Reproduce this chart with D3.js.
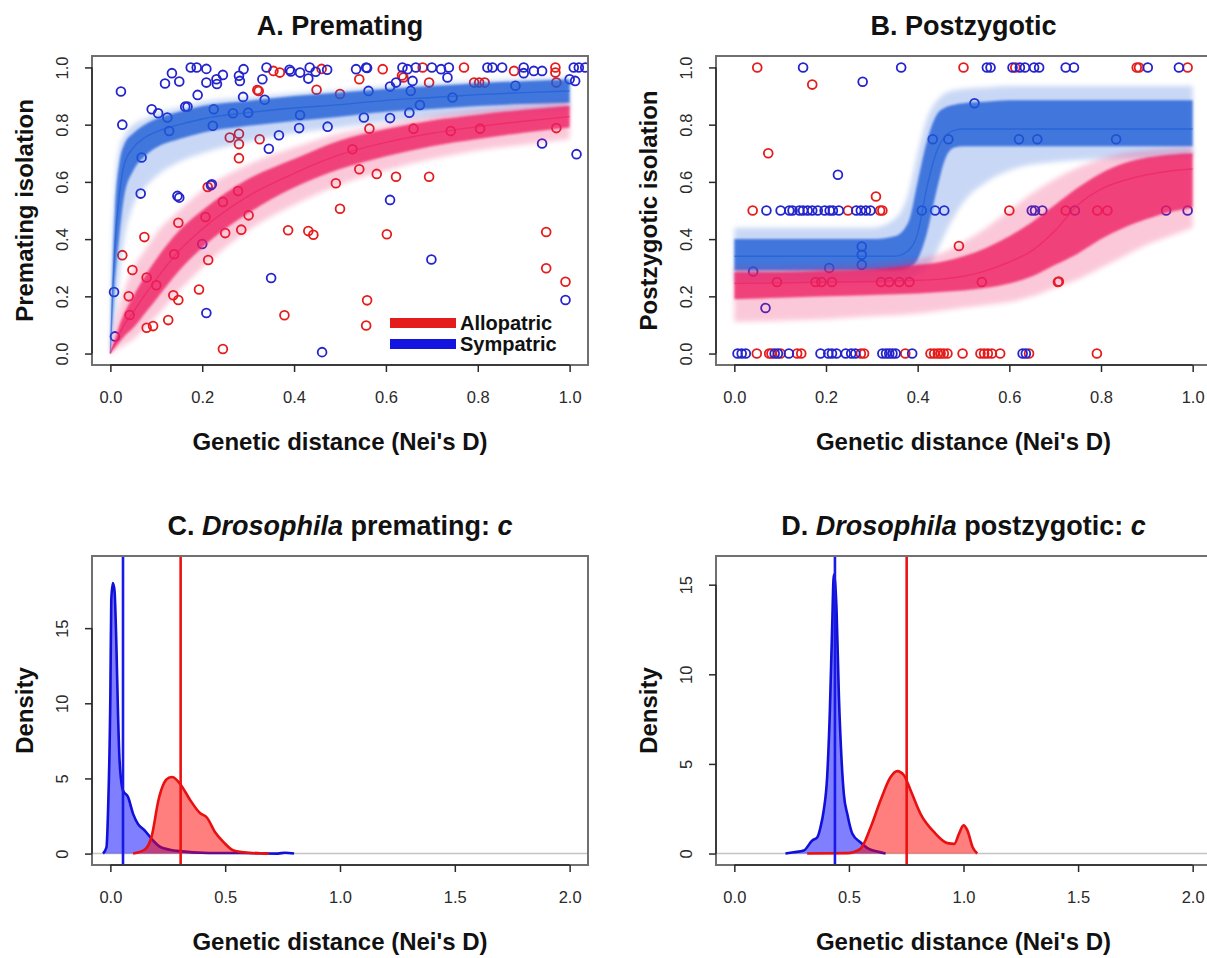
<!DOCTYPE html>
<html>
<head>
<meta charset="utf-8">
<script src="https://cdn.jsdelivr.net/npm/d3@7/dist/d3.min.js"></script>
<style>
  body { margin: 0; background: #fff; }
</style>
</head>
<body>
<svg id="fig" width="1207" height="958"></svg>
<script>
// ---- data ----

// A. premating isolation vs genetic distance (Nei's D)
var premAllo = [
  [0.355,0.988],[0.369,0.982],[0.32,0.921],[0.323,0.918],[0.26,0.755],[0.28,0.768],[0.28,0.732],
  [0.325,0.749],[0.28,0.683],[0.278,0.568],[0.449,0.922],[0.50,0.907],[0.491,0.595],[0.50,0.506],
  [0.301,0.483],[0.285,0.433],[0.25,0.421],[0.212,0.582],[0.245,0.53],[0.207,0.477],[0.148,0.457],
  [0.074,0.407],[0.026,0.344],[0.048,0.292],[0.079,0.266],[0.10,0.239],[0.04,0.20],[0.042,0.135],
  [0.079,0.09],[0.093,0.096],[0.126,0.117],[0.137,0.204],[0.148,0.187],[0.193,0.224],[0.213,0.327],
  [0.139,0.347],[0.387,0.431],[0.431,0.428],[0.442,0.415],[0.379,0.134],[0.245,0.016],[0.527,0.714],
  [0.46,0.995],[0.542,0.959],[0.593,0.994],[0.638,0.965],[0.635,0.972],[0.68,1.0],[0.694,0.947],
  [0.77,1.0],[0.792,0.947],[0.803,0.947],[0.815,0.947],[0.879,0.988],[0.969,1.0],[0.969,0.982],
  [0.971,0.947],[0.564,0.786],[0.66,0.786],[0.741,0.778],[0.805,0.786],[0.971,0.788],[0.542,0.644],
  [0.58,0.628],[0.622,0.618],[0.694,0.618],[0.602,0.417],[0.949,0.425],[0.949,0.298],[0.991,0.251],
  [0.559,0.186],[0.557,0.098]
];
var premSym = [
  [0.023,0.916],[0.026,0.80],[0.09,0.854],[0.104,0.84],[0.124,0.825],[0.119,0.944],[0.134,0.98],
  [0.15,0.951],[0.163,0.863],[0.168,0.863],[0.175,1.0],[0.188,1.0],[0.19,0.904],[0.209,0.995],
  [0.209,0.947],[0.225,0.854],[0.223,0.796],[0.231,0.959],[0.232,0.942],[0.245,0.974],[0.267,0.84],
  [0.28,0.971],[0.282,0.953],[0.29,0.994],[0.289,0.897],[0.331,0.959],[0.336,0.887],[0.34,1.0],
  [0.345,0.716],[0.367,0.763],[0.39,0.992],[0.393,0.986],[0.411,0.788],[0.413,0.982],[0.413,0.834],
  [0.431,0.961],[0.434,1.0],[0.447,0.985],[0.472,0.992],[0.473,0.793],[0.068,0.685],[0.066,0.559],
  [0.146,0.551],[0.15,0.545],[0.219,0.588],[0.221,0.592],[0.2,0.383],[0.209,0.142],[0.35,0.264],
  [0.461,0.005],[0.008,0.215],[0.01,0.06],[0.128,0.778],[0.30,0.842],
  [0.535,0.994],[0.557,1.0],[0.559,0.998],[0.636,1.0],[0.647,0.994],[0.665,1.0],[0.70,1.0],
  [0.72,0.994],[0.737,1.0],[0.821,1.0],[0.832,1.0],[0.853,1.0],[0.90,1.0],[0.90,0.98],[0.922,0.988],
  [0.94,0.988],[1.009,1.0],[1.02,1.0],[1.034,1.0],[0.658,0.953],[0.734,0.965],[0.882,0.936],
  [1.0,0.959],[1.012,0.953],[0.562,0.918],[0.609,0.933],[0.622,0.947],[0.654,0.918],[0.745,0.895],
  [0.552,0.825],[0.609,0.823],[0.651,0.842],[0.674,0.869],[0.94,0.734],[1.015,0.697],[0.609,0.537],
  [0.699,0.329],[0.991,0.187]
];
// posterior fit bands: [D, outer low, inner low, median, inner high, outer high]
var premSymBand = [
  [0.000,0.00,0.00,0.00,0.00,0.00],[0.005,0.05,0.12,0.22,0.30,0.40],[0.010,0.12,0.25,0.38,0.50,0.58],
  [0.020,0.28,0.42,0.56,0.67,0.72],[0.030,0.40,0.55,0.66,0.73,0.76],[0.050,0.52,0.64,0.72,0.77,0.80],
  [0.075,0.58,0.69,0.755,0.80,0.82],[0.100,0.62,0.72,0.775,0.82,0.84],[0.150,0.67,0.75,0.80,0.845,0.86],
  [0.200,0.70,0.772,0.82,0.865,0.88],[0.300,0.74,0.796,0.842,0.883,0.895],[0.400,0.77,0.813,0.858,0.90,0.91],
  [0.500,0.79,0.828,0.87,0.912,0.92],[0.600,0.81,0.845,0.885,0.925,0.935],[0.700,0.825,0.855,0.895,0.935,0.945],
  [0.800,0.835,0.865,0.905,0.945,0.953],[0.900,0.845,0.872,0.912,0.952,0.96],[1.000,0.85,0.877,0.918,0.958,0.965]
];
var premAlloBand = [
  [0.000,0.00,0.00,0.00,0.00,0.00],[0.005,0.00,0.01,0.02,0.03,0.06],[0.010,0.01,0.02,0.035,0.05,0.10],
  [0.020,0.02,0.04,0.07,0.10,0.17],[0.030,0.03,0.06,0.10,0.14,0.22],[0.050,0.05,0.09,0.145,0.20,0.30],
  [0.075,0.09,0.14,0.205,0.27,0.36],[0.100,0.13,0.19,0.26,0.33,0.42],[0.150,0.22,0.29,0.36,0.43,0.50],
  [0.200,0.30,0.37,0.435,0.50,0.57],[0.300,0.43,0.49,0.55,0.61,0.66],[0.400,0.52,0.58,0.63,0.68,0.72],
  [0.500,0.59,0.645,0.695,0.745,0.77],[0.600,0.64,0.69,0.738,0.785,0.80],[0.700,0.68,0.725,0.77,0.815,0.83],
  [0.800,0.71,0.75,0.793,0.835,0.85],[0.900,0.73,0.772,0.812,0.852,0.865],[1.000,0.75,0.79,0.828,0.866,0.88]
];

// B. postzygotic isolation vs genetic distance
var postAllo = [
  [0.05,1.0],[0.5,1.0],[0.613,1.0],[0.878,1.0],[0.883,1.0],[0.989,1.0],
  [0.17,0.94],[0.074,0.70],[0.309,0.549],[0.49,0.376],
  [0.04,0.5],[0.248,0.5],[0.318,0.5],[0.323,0.5],[0.6,0.5],[0.723,0.5],[0.792,0.5],[0.814,0.5],
  [0.093,0.25],[0.177,0.25],[0.19,0.25],[0.213,0.25],[0.32,0.25],[0.338,0.25],[0.36,0.25],[0.382,0.25],
  [0.54,0.25],[0.706,0.25],[0.708,0.252],
  [0.049,0],[0.076,0],[0.081,0],[0.101,0],[0.137,0],[0.146,0],[0.276,0],[0.283,0],[0.373,0],[0.428,0],
  [0.436,0],[0.444,0],[0.45,0],[0.457,0],[0.465,0],[0.498,0],[0.537,0],[0.545,0],[0.553,0],[0.562,0],
  [0.58,0],[0.643,0],[0.791,0]
];
var postSym = [
  [0.15,1.0],[0.364,1.0],[0.551,1.0],[0.559,1.0],[0.607,1.0],[0.623,1.0],[0.634,1.0],[0.654,1.0],
  [0.665,1.0],[0.723,1.0],[0.741,1.0],[0.902,1.0],[0.97,1.0],
  [0.28,0.95],[0.226,0.625],[0.524,0.875],[0.433,0.749],[0.467,0.749],[0.621,0.749],[0.661,0.749],[0.833,0.749],
  [0.07,0.5],[0.101,0.5],[0.12,0.5],[0.127,0.5],[0.142,0.5],[0.15,0.5],[0.16,0.5],[0.17,0.5],[0.182,0.5],
  [0.197,0.5],[0.208,0.5],[0.215,0.5],[0.228,0.5],[0.266,0.5],[0.276,0.5],[0.287,0.5],[0.297,0.5],
  [0.409,0.5],[0.438,0.5],[0.458,0.5],[0.649,0.5],[0.656,0.5],[0.672,0.5],[0.743,0.5],[0.942,0.5],[0.989,0.5],
  [0.278,0.374],[0.278,0.345],[0.278,0.31],[0.207,0.299],[0.041,0.287],[0.068,0.159],
  [0.007,0],[0.016,0],[0.025,0],[0.088,0],[0.095,0],[0.119,0],[0.188,0],[0.205,0],[0.213,0],[0.223,0],
  [0.243,0],[0.255,0],[0.264,0],[0.323,0],[0.331,0],[0.338,0],[0.345,0],[0.352,0],[0.388,0],[0.629,0],[0.636,0]
];
var postSymBand = [
  [0.00,0.25,0.29,0.34,0.40,0.44],[0.10,0.25,0.29,0.34,0.40,0.44],[0.20,0.25,0.29,0.34,0.40,0.44],
  [0.30,0.25,0.29,0.34,0.40,0.44],[0.35,0.25,0.29,0.34,0.41,0.47],[0.38,0.26,0.30,0.36,0.46,0.56],
  [0.40,0.28,0.33,0.42,0.60,0.70],[0.42,0.30,0.42,0.58,0.74,0.82],[0.44,0.35,0.56,0.70,0.83,0.88],
  [0.46,0.42,0.68,0.76,0.86,0.91],[0.48,0.48,0.72,0.78,0.87,0.92],[0.50,0.53,0.725,0.785,0.875,0.925],
  [0.55,0.60,0.725,0.785,0.88,0.93],[0.60,0.64,0.725,0.785,0.885,0.935],[0.70,0.67,0.725,0.785,0.885,0.935],
  [0.80,0.68,0.725,0.785,0.885,0.935],[0.90,0.685,0.725,0.785,0.885,0.935],[1.00,0.69,0.725,0.785,0.885,0.935]
];
var postAlloBand = [
  [0.00,0.11,0.19,0.245,0.285,0.30],[0.10,0.115,0.195,0.247,0.285,0.30],[0.20,0.12,0.20,0.25,0.29,0.305],
  [0.30,0.13,0.205,0.252,0.295,0.31],[0.40,0.14,0.21,0.256,0.31,0.33],[0.45,0.15,0.215,0.26,0.32,0.35],
  [0.50,0.16,0.22,0.27,0.34,0.39],[0.55,0.17,0.23,0.29,0.37,0.44],[0.60,0.18,0.245,0.32,0.41,0.50],
  [0.65,0.20,0.27,0.36,0.46,0.56],[0.70,0.23,0.31,0.43,0.52,0.61],[0.75,0.26,0.35,0.52,0.58,0.65],
  [0.80,0.30,0.40,0.575,0.63,0.68],[0.85,0.34,0.44,0.605,0.665,0.70],[0.90,0.38,0.47,0.625,0.685,0.71],
  [0.95,0.41,0.495,0.638,0.695,0.715],[1.00,0.44,0.51,0.645,0.70,0.72]
];

// C / D. posterior densities of c, [D, density]
var premDensSym = [
  [-0.032,0],[-0.017,0.42],[-0.01,2.9],[0.0,10.6],[0.004,16.9],[0.011,18.0],[0.018,17.5],[0.026,14.0],
  [0.033,9.5],[0.04,6.2],[0.055,4.2],[0.077,3.76],[0.099,2.64],[0.12,1.98],[0.15,1.53],[0.186,0.87],
  [0.22,0.42],[0.29,0.18],[0.43,0.04],[0.57,0.04],[0.73,0.0],[0.76,0.06],[0.80,0]
];
var premDensAllo = [
  [0.099,0],[0.15,0.27],[0.18,1.16],[0.21,3.6],[0.234,4.7],[0.255,5.05],[0.27,5.1],[0.31,4.5],[0.346,3.6],
  [0.39,2.7],[0.42,2.4],[0.457,1.4],[0.493,0.76],[0.537,0.2],[0.60,0.05],[0.69,0]
];
var postDensSym = [
  [0.223,0],[0.26,0.07],[0.303,0.17],[0.34,0.73],[0.362,0.91],[0.376,1.47],[0.39,2.4],[0.405,4.27],
  [0.417,8.0],[0.427,12.7],[0.434,15.56],[0.446,13.6],[0.456,8.9],[0.468,5.2],[0.478,3.3],[0.493,2.2],
  [0.515,1.1],[0.55,0.63],[0.587,0.26],[0.624,0.11],[0.66,0]
];
var postDensAllo = [
  [0.318,0],[0.493,0.02],[0.55,0.26],[0.595,1.47],[0.638,2.97],[0.682,4.27],[0.711,4.6],[0.74,4.37],
  [0.77,3.5],[0.813,2.2],[0.872,1.19],[0.93,0.58],[0.96,0.54],[0.98,1.1],[1.0,1.57],[1.017,1.29],
  [1.04,0.35],[1.06,0]
];
// posterior medians of c: [sympatric, allopatric]
var premMedians = [0.055, 0.306];
var postMedians = [0.439, 0.752];

// ticks
var isoTicks = [0, 0.2, 0.4, 0.6, 0.8, 1.0];
var distTicks = [0, 0.5, 1.0, 1.5, 2.0];
var densTicksC = [0, 5, 10, 15];
var densTicksD = [0, 5, 10, 15];
var legendNames = ["Allopatric", "Sympatric"];

// ---- drawing ----
var FONT = '"Liberation Sans", Arial, Helvetica, sans-serif';
var RED = "#e51c1c", BLUE = "#2424cc";
var svg = d3.select("#fig");
var defs = svg.append("defs");

// soft edges for the bundles of posterior curves
[["soft1", 1.0], ["soft2", 2.4]].forEach(function(f){
    defs.append("filter").attr("id", f[0])
        .attr("x", "-5%").attr("y", "-5%").attr("width", "110%").attr("height", "110%")
        .append("feGaussianBlur").attr("stdDeviation", f[1]);
});

function panel(o){
    var p = {o: o};
    p.x = d3.scaleLinear().domain(o.xdom).range([o.left, o.right]);
    p.y = d3.scaleLinear().domain(o.ydom).range([o.bottom, o.top]);
    defs.append("clipPath").attr("id", o.id).append("rect")
        .attr("x", o.left).attr("y", o.top)
        .attr("width", o.right - o.left).attr("height", o.bottom - o.top);
    p.plot = svg.append("g").attr("clip-path", "url(#" + o.id + ")");
    return p;
}

// box, axes, titles (R base graphics look)
function frame(p, title, xlab, ylab, xticks, yticks, xfmt, yfmt){
    var o = p.o;
    svg.append("rect")
        .attr("x", o.left).attr("y", o.top)
        .attr("width", o.right - o.left).attr("height", o.bottom - o.top)
        .attr("fill", "none").attr("stroke", "#707070").attr("stroke-width", 2);

    var gx = svg.append("g")
        .attr("transform", "translate(0," + o.bottom + ")")
        .call(d3.axisBottom(p.x).tickValues(xticks).tickFormat(d3.format(xfmt)).tickSize(7).tickSizeOuter(0));
    var gy = svg.append("g")
        .attr("transform", "translate(" + o.left + ",0)")
        .call(d3.axisLeft(p.y).tickValues(yticks).tickFormat(d3.format(yfmt)).tickSize(7).tickSizeOuter(0));

    [gx, gy].forEach(function(g){
        g.attr("font-family", FONT).attr("font-size", 16.5).attr("color", "#2a2a2a");
        g.select(".domain").remove();
        g.selectAll(".tick line").attr("stroke-width", 1.5);
    });
    gx.selectAll(".tick text").attr("y", 26);
    gy.selectAll(".tick text")
        .attr("transform", "rotate(-90)")
        .attr("x", 0).attr("y", -24).attr("dy", 0)
        .attr("text-anchor", "middle");

    // axis lines from first to last tick
    svg.append("line")
        .attr("x1", p.x(xticks[0])).attr("x2", p.x(xticks[xticks.length - 1]))
        .attr("y1", o.bottom).attr("y2", o.bottom)
        .attr("stroke", "#2a2a2a").attr("stroke-width", 1.5);
    svg.append("line")
        .attr("x1", o.left).attr("x2", o.left)
        .attr("y1", p.y(yticks[0])).attr("y2", p.y(yticks[yticks.length - 1]))
        .attr("stroke", "#2a2a2a").attr("stroke-width", 1.5);

    var cx = (o.left + o.right) / 2;
    var t = svg.append("text")
        .attr("x", cx).attr("y", o.top - 21)
        .attr("text-anchor", "middle")
        .attr("font-family", FONT).attr("font-size", 27).attr("font-weight", "bold")
        .attr("fill", "#111");
    title.forEach(function(s){
        t.append("tspan").attr("font-style", s[1] ? "italic" : "normal").text(s[0]);
    });

    svg.append("text")
        .attr("x", cx).attr("y", o.bottom + 85)
        .attr("text-anchor", "middle")
        .attr("font-family", FONT).attr("font-size", 24).attr("font-weight", "bold")
        .attr("fill", "#111")
        .text(xlab);
    svg.append("text")
        .attr("transform", "translate(" + (o.left - 59) + "," + ((o.top + o.bottom) / 2) + ") rotate(-90)")
        .attr("text-anchor", "middle")
        .attr("font-family", FONT).attr("font-size", 24).attr("font-weight", "bold")
        .attr("fill", "#111")
        .text(ylab);
}

function points(p, data, color){
    p.plot.selectAll(null)
        .data(data)
        .enter()
        .append("circle")
        .attr("cx", function(d){ return p.x(d[0]); })
        .attr("cy", function(d){ return p.y(d[1]); })
        .attr("r", 4.4)
        .attr("fill", "none")
        .attr("stroke", color)
        .attr("stroke-width", 1.8);
}

// bundle of posterior curves drawn as nested soft bands + median
function band(p, rows, color){
    function area(lo, hi){
        return d3.area()
            .x(function(d){ return p.x(d[0]); })
            .y0(function(d){ return p.y(d[lo]); })
            .y1(function(d){ return p.y(d[hi]); })
            .curve(d3.curveMonotoneX);
    }
    p.plot.append("path").datum(rows)
        .attr("d", area(1, 5)).attr("fill", color).attr("opacity", 0.24)
        .attr("filter", "url(#soft2)");
    p.plot.append("path").datum(rows)
        .attr("d", area(2, 4)).attr("fill", color).attr("opacity", 0.78)
        .attr("filter", "url(#soft1)");
    p.plot.append("path").datum(rows)
        .attr("d", d3.line()
            .x(function(d){ return p.x(d[0]); })
            .y(function(d){ return p.y(d[3]); })
            .curve(d3.curveMonotoneX))
        .attr("fill", "none").attr("stroke", color)
        .attr("stroke-width", 1.4).attr("opacity", 0.6);
}

function density(p, data, fill, stroke){
    var area = d3.area()
        .x(function(d){ return p.x(d[0]); })
        .y0(p.y(0))
        .y1(function(d){ return p.y(d[1]); })
        .curve(d3.curveMonotoneX);
    var line = d3.line()
        .x(function(d){ return p.x(d[0]); })
        .y(function(d){ return p.y(d[1]); })
        .curve(d3.curveMonotoneX);
    p.plot.append("path").datum(data).attr("d", area)
        .attr("fill", fill).attr("fill-opacity", 0.5);
    p.plot.append("path").datum(data).attr("d", line)
        .attr("fill", "none").attr("stroke", stroke)
        .attr("stroke-width", 2.6).attr("stroke-linejoin", "round");
}

function vline(p, v, color){
    p.plot.append("line")
        .attr("x1", p.x(v)).attr("x2", p.x(v))
        .attr("y1", p.o.top).attr("y2", p.o.bottom)
        .attr("stroke", color).attr("stroke-width", 2.6);
}

function zeroLine(p){
    p.plot.append("line")
        .attr("x1", p.o.left).attr("x2", p.o.right)
        .attr("y1", p.y(0)).attr("y2", p.y(0))
        .attr("stroke", "#c4c4c4").attr("stroke-width", 1.5);
}

var isoDom = [-0.04, 1.04];
var xlabText = "Genetic distance (Nei's D)";

// A. Premating
var pA = panel({id: "clipA", left: 92, right: 588, top: 56, bottom: 365, xdom: isoDom, ydom: isoDom});
points(pA, premAllo, RED);
points(pA, premSym, BLUE);
band(pA, premSymBand, "#1d5bd6");
band(pA, premAlloBand, "#ee1f62");
// legend
var legY = [pA.o.bottom - 42, pA.o.bottom - 21];
[RED, "#1414e0"].forEach(function(c, i){
    svg.append("line")
        .attr("x1", pA.o.right - 198).attr("x2", pA.o.right - 132)
        .attr("y1", legY[i]).attr("y2", legY[i])
        .attr("stroke", c).attr("stroke-width", 10);
    svg.append("text")
        .attr("x", pA.o.right - 128).attr("y", legY[i] + 7)
        .attr("font-family", FONT).attr("font-size", 20).attr("font-weight", "bold")
        .attr("fill", "#111")
        .text(legendNames[i]);
});
frame(pA, [["A. Premating", false]], xlabText, "Premating isolation",
      isoTicks, isoTicks, ".1f", ".1f");

// B. Postzygotic
var pB = panel({id: "clipB", left: 716, right: 1211, top: 56, bottom: 365, xdom: isoDom, ydom: isoDom});
points(pB, postAllo, RED);
points(pB, postSym, BLUE);
band(pB, postSymBand, "#1d5bd6");
band(pB, postAlloBand, "#ee1f62");
frame(pB, [["B. Postzygotic", false]], xlabText, "Postzygotic isolation",
      isoTicks, isoTicks, ".1f", ".1f");

// C. Drosophila premating: c
var pC = panel({id: "clipC", left: 92, right: 588, top: 556, bottom: 865, xdom: [-0.08, 2.08], ydom: [-0.76, 19.8]});
zeroLine(pC);
density(pC, premDensSym, "#0000ff", "#1010d8");
density(pC, premDensAllo, "#ff0000", "#e81010");
vline(pC, premMedians[0], "#1a1ae6");
vline(pC, premMedians[1], "#ee1111");
frame(pC, [["C. ", false], ["Drosophila", true], [" premating: ", false], ["c", true]],
      xlabText, "Density", distTicks, densTicksC, ".1f", "d");

// D. Drosophila postzygotic: c
var pD = panel({id: "clipD", left: 716, right: 1211, top: 556, bottom: 865, xdom: [-0.08, 2.08], ydom: [-0.64, 16.6]});
zeroLine(pD);
density(pD, postDensSym, "#0000ff", "#1010d8");
density(pD, postDensAllo, "#ff0000", "#e81010");
vline(pD, postMedians[0], "#1a1ae6");
vline(pD, postMedians[1], "#ee1111");
frame(pD, [["D. ", false], ["Drosophila", true], [" postzygotic: ", false], ["c", true]],
      xlabText, "Density", distTicks, densTicksD, ".1f", "d");
</script>
</body>
</html>
